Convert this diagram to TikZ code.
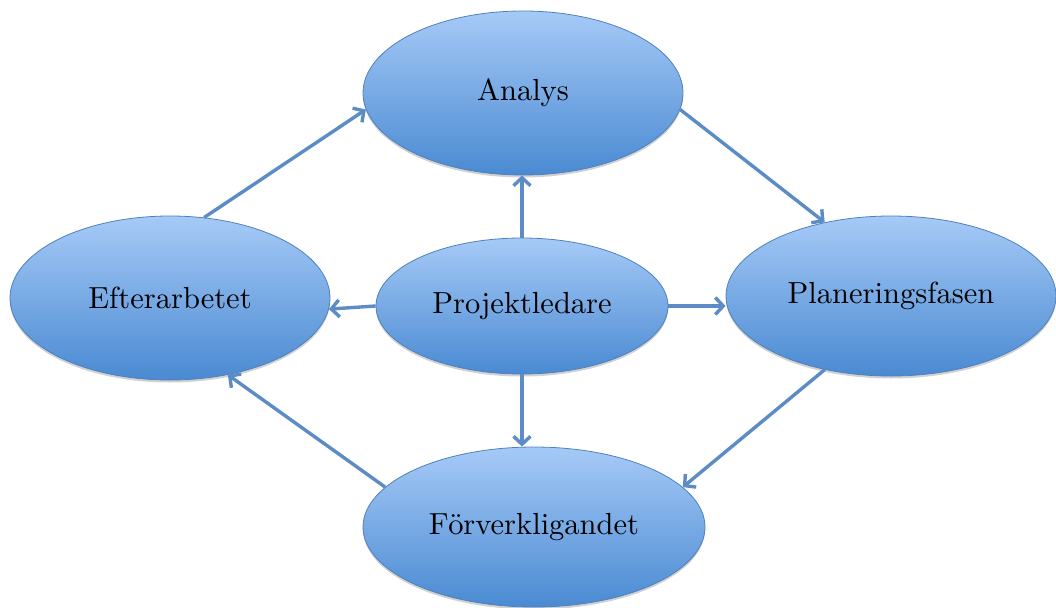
\documentclass[tikz,border=0pt]{standalone}
\usepackage{fontspec}
\newfontfamily\labelfont{lmroman10-regular}[Extension=.otf]
\usetikzlibrary{shapes.geometric,arrows.meta,shadows}
\definecolor{elltop}{RGB}{166,202,247}
\definecolor{ellbot}{RGB}{74,138,210}
\definecolor{ellborder}{RGB}{79,129,189}
\definecolor{arrowcol}{RGB}{92,140,198}
\tikzset{
  phase/.style={ellipse, draw=ellborder, line width=0.8pt, inner sep=0pt,
    top color=elltop, bottom color=ellbot,
    drop shadow={opacity=0.18, shadow xshift=0pt, shadow yshift=-2.5pt, fill=black},
    font=\labelfont\fontsize{30.5}{36}\selectfont},
  link/.style={draw=arrowcol, line width=3.4pt,
    -{Straight Barb[length=8pt,width=17pt]}}
}
\begin{document}
\begin{tikzpicture}[x=1pt,y=-1pt]
\useasboundingbox (0,0) rectangle (1056,607);
\node[phase, minimum width=320pt, minimum height=164pt] (an) at (523,93) {Analys};
\node[phase, minimum width=320pt, minimum height=164pt] (ef) at (170,298) {Efterarbetet};
\node[phase, minimum width=330pt, minimum height=160pt] (pa) at (891,296) {Planeringsfasen};
\node[phase, minimum width=342pt, minimum height=160pt] (fo) at (534,527) {Förverkligandet};
\node[phase, minimum width=292pt, minimum height=136pt] (pl) at (522,306) {Projektledare};
\draw[link] (ef.67) -- (an.186);
\draw[link] (an.354) -- (pa.132);
\draw[link] (pa.228) -- (fo.15);
\draw[link] (fo.165) -- (ef.307);
\draw[link] (pl.north) -- (pl.north |- an.south);
\draw[link] (pl.south) -- (pl.south |- fo.north);
\draw[link] (pl.west) -- (ef.-4);
\draw[link] (pl.east) -- (pl.east -| pa.west);
\end{tikzpicture}
\end{document}
